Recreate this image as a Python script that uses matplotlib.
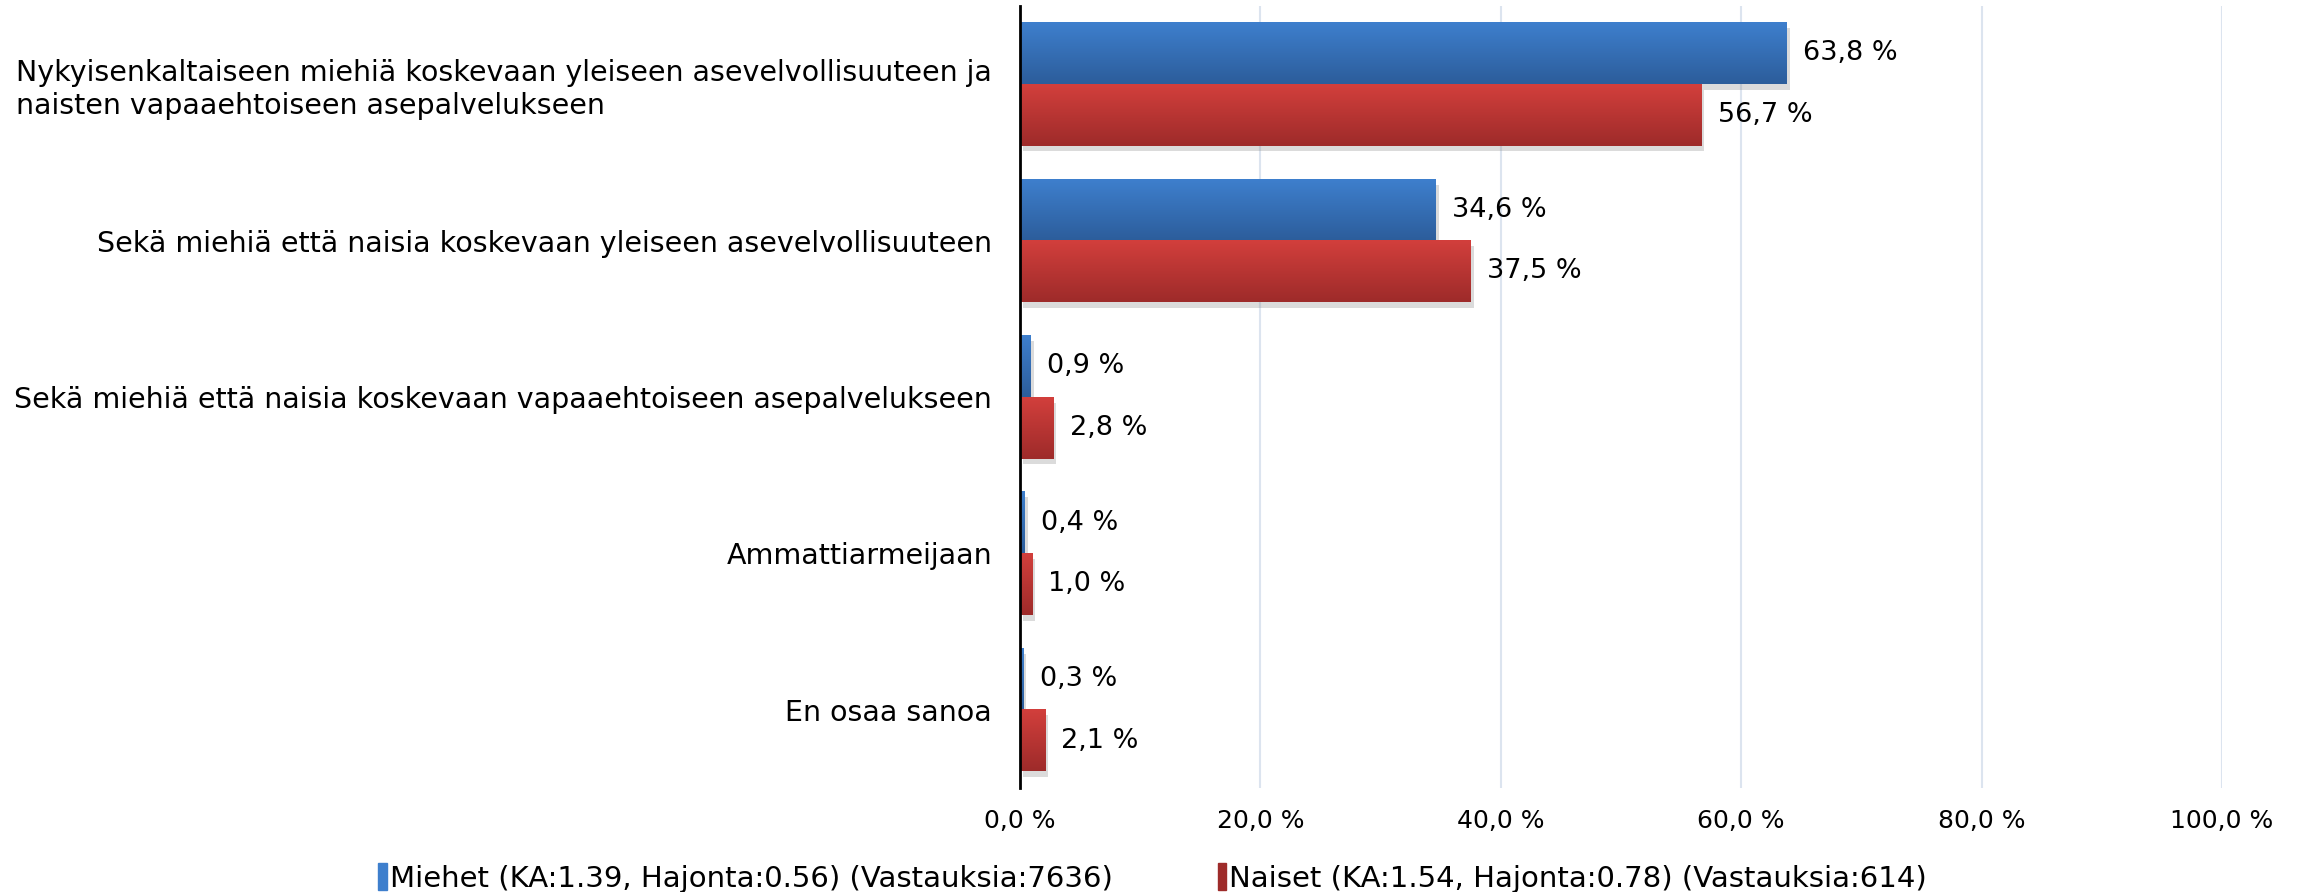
import matplotlib
matplotlib.use("Agg")
import matplotlib.pyplot as plt
import matplotlib.patheffects as pe
from matplotlib.colors import LinearSegmentedColormap
from matplotlib.patches import Patch
import numpy as np

# reference text is wide-tracked, DejaVu gets closer in width than Liberation
plt.rcParams['font.family'] = ['DejaVu Sans']

categories = [
    "Nykyisenkaltaiseen miehiä koskevaan yleiseen asevelvollisuuteen ja\nnaisten vapaaehtoiseen asepalvelukseen",
    "Sekä miehiä että naisia koskevaan yleiseen asevelvollisuuteen",
    "Sekä miehiä että naisia koskevaan vapaaehtoiseen asepalvelukseen",
    "Ammattiarmeijaan",
    "En osaa sanoa",
]
miehet = [63.8, 34.6, 0.9, 0.4, 0.3]
naiset = [56.7, 37.5, 2.8, 1.0, 2.1]
series_labels = [
    "Miehet (KA:1.39, Hajonta:0.56) (Vastauksia:7636)",
    "Naiset (KA:1.54, Hajonta:0.78) (Vastauksia:614)",
]
xticks = [0, 20, 40, 60, 80, 100]

blue_top, blue_bot = "#3e7fcd", "#2c5d9b"
red_top, red_bot = "#d23f3c", "#9e2b2a"

def fmt(v):
    return f"{v:.1f} %".replace(".", ",")

fig = plt.figure(figsize=(23.05, 8.92), dpi=100)
ax = fig.add_axes([0.4425, 0.1166, 0.5215, 0.8767])

n = len(categories)
centers = np.arange(n)[::-1]
h = 0.394
shadow = [pe.SimplePatchShadow(offset=(2, -4), shadow_rgbFace="#888888", alpha=0.3), pe.Normal()]

for vals, off, ctop, cbot in [(miehet, h / 2, blue_top, blue_bot), (naiset, -h / 2, red_top, red_bot)]:
    cmap = LinearSegmentedColormap.from_list("g", [ctop, cbot])
    bars = ax.barh(centers + off, vals, height=h, color=cbot, zorder=2)
    for b, v in zip(bars, vals):
        b.set_path_effects(shadow)
        y0 = b.get_y()
        grad = np.linspace(0, 1, 64).reshape(-1, 1)
        ax.imshow(grad, extent=(0, v, y0, y0 + h), origin="upper", aspect="auto",
                  cmap=cmap, zorder=3, interpolation="bicubic")
        ax.annotate(fmt(v), (v, y0 + h / 2), xytext=(11.5, 0), textcoords="offset points",
                    va="center", ha="left", fontsize=19.5)

ax.set_xlim(0, 100)
ax.set_ylim(-0.5, n - 0.5)
ax.set_xticks(xticks)
ax.set_xticklabels([fmt(t) for t in xticks], fontsize=18)
ax.set_yticks(centers)
ax.set_yticklabels(categories, fontsize=20.5)
for lab in ax.get_yticklabels():
    lab.set_multialignment("left")
ax.tick_params(axis="both", length=0)
ax.tick_params(axis="y", pad=20)
ax.tick_params(axis="x", pad=15)
ax.xaxis.grid(True, color="#dce4ef", linewidth=1.5, zorder=0)
ax.set_axisbelow(True)
for s in ["top", "right", "bottom"]:
    ax.spines[s].set_visible(False)
ax.spines["left"].set_linewidth(2)
ax.spines["left"].set_zorder(5)

handles = [Patch(color=blue_top), Patch(color=red_bot)]
fig.legend(handles, series_labels, loc="lower center", bbox_to_anchor=(0.5, -0.03), ncol=2,
           frameon=False, fontsize=21, handlelength=0.3, handleheight=1.0, handletextpad=0.1,
           columnspacing=3.6)

fig.savefig("out.png", dpi=100)
